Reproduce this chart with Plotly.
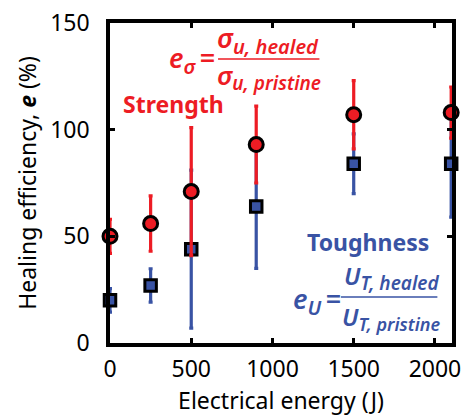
import plotly.graph_objects as go

energy = [0, 250, 500, 900, 1500, 2100]
strength = [50, 56, 71, 93, 107, 108]
strength_err = [8, 13, 30, 18, 16, 12]
toughness = [20, 27, 44, 64, 84, 84]
toughness_err = [5.5, 7.8, 37, 29, 14, 25]

RED = "#ED1C24"
BLUE = "#3953A4"
FONT = "Noto Sans"

fig = go.Figure()
fig.add_trace(go.Scatter(
    x=energy, y=toughness, mode="markers", cliponaxis=False,
    marker=dict(symbol="square", size=11.5, color=BLUE, line=dict(color="black", width=3)),
    error_y=dict(type="data", array=toughness_err, color=BLUE, thickness=3.2, width=2),
))
fig.add_trace(go.Scatter(
    x=energy, y=strength, mode="markers", cliponaxis=False,
    marker=dict(symbol="circle", size=14, color=RED, line=dict(color="black", width=3)),
    error_y=dict(type="data", array=strength_err, color=RED, thickness=3.2, width=2),
))

axis_common = dict(showline=True, linecolor="black", linewidth=3.5, mirror="ticks",
                   ticks="inside", ticklen=5, tickwidth=2.5, tickcolor="black",
                   showgrid=False, zeroline=False,
                   tickfont=dict(family=FONT, size=23, color="black"))

fig.update_xaxes(range=[0, 2105], tickvals=[0, 500, 1000, 1500, 2000],
                 ticklabelstandoff=3,
                 title=dict(text="Electrical energy (J)", font=dict(family=FONT, size=23, color="black"), standoff=6),
                 **axis_common)
fig.update_yaxes(range=[0, 150], tickvals=[0, 50, 100, 150], ticklabelstandoff=12,
                 title=dict(text="Healing efficiency, <b><i>e</i></b> (%)", font=dict(family=FONT, size=23, color="black"), standoff=8),
                 **axis_common)

SUB = '<sub><span style="font-size:{}px"><i>{}</i></span></sub>'
ann = []
ann.append(dict(x=390, y=111.8, text="<b>Strength</b>", font=dict(family=FONT, size=23, color=RED)))
ann.append(dict(x=975, y=142.2, text="<i>σ</i>" + SUB.format(20, "u, healed"), font=dict(family=FONT, size=27, color=RED, weight=600)))
ann.append(dict(x=980, y=124.8, text="<i>σ</i>" + SUB.format(19, "u, pristine"), font=dict(family=FONT, size=26, color=RED, weight=600)))
ann.append(dict(x=505, y=133, text="<i>e</i>" + SUB.format(20, "σ") + "\u2009=", font=dict(family=FONT, size=27, color=RED, weight=600)))
ann.append(dict(x=1589, y=47.3, text="<b>Toughness</b>", font=dict(family=FONT, size=23, color=BLUE)))
ann.append(dict(x=1730, y=30.5, text="<i>U</i>" + SUB.format(19, "T, healed"), font=dict(family=FONT, size=24, color=BLUE, weight=600)))
ann.append(dict(x=1730, y=11.5, text="<i>U</i>" + SUB.format(18, "T, pristine"), font=dict(family=FONT, size=24, color=BLUE, weight=600)))
ann.append(dict(x=1272, y=20, text="<i>e</i>" + SUB.format(20, "U") + "\u2009=", font=dict(family=FONT, size=27, color=BLUE, weight=600)))
for a in ann:
    a.update(xref="x", yref="y", showarrow=False, xanchor="center", yanchor="middle", borderpad=0)
fig.update_layout(annotations=ann)

fig.add_shape(type="line", x0=665, x1=1289, y0=133.1, y1=133.1, line=dict(color=RED, width=1.5))
fig.add_shape(type="line", x0=1421, x1=2015, y0=21.6, y1=21.6, line=dict(color=BLUE, width=1.5))

fig.update_layout(width=467, height=418, margin=dict(l=110, r=6, t=23, b=75),
                  plot_bgcolor="white", paper_bgcolor="white", showlegend=False,
                  font=dict(family=FONT))
fig.write_html("out.html")
